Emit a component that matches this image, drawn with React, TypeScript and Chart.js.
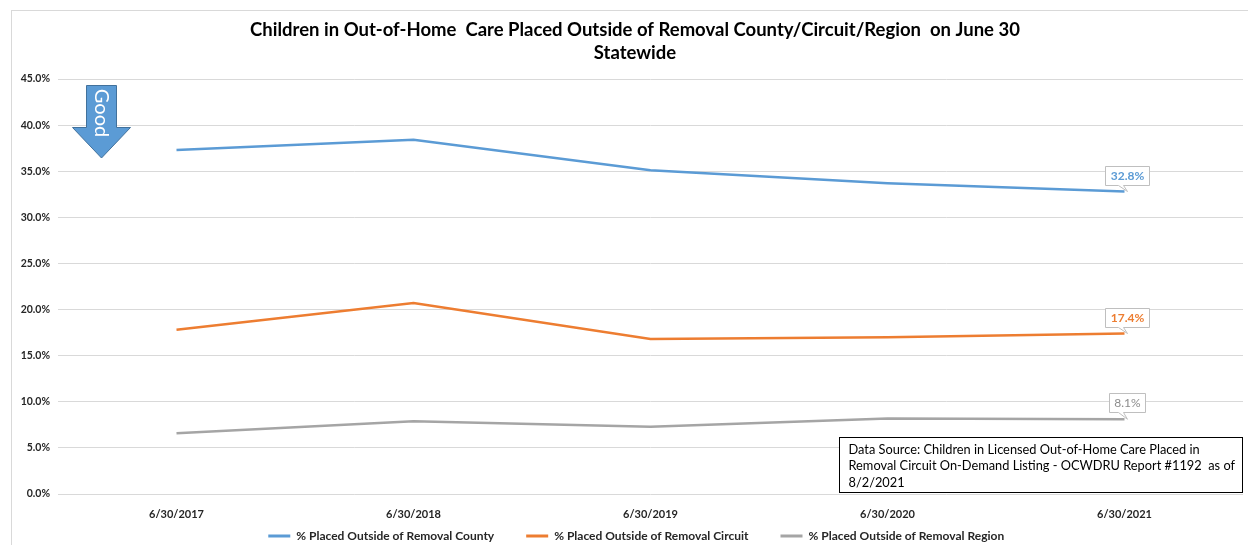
import React, { useEffect, useRef } from "react";
import { Chart, registerables } from "chart.js";

Chart.register(...registerables);

const categories = ["6/30/2017", "6/30/2018", "6/30/2019", "6/30/2020", "6/30/2021"];
const countyPct = [37.3, 38.4, 35.1, 33.7, 32.8];
const circuitPct = [17.8, 20.7, 16.8, 17.0, 17.4];
const regionPct = [6.6, 7.9, 7.3, 8.2, 8.1];
const seriesNames = [
  "% Placed Outside of Removal County",
  "% Placed Outside of Removal Circuit",
  "% Placed Outside of Removal Region",
];
const titleLines = [
  "Children in Out-of-Home  Care Placed Outside of Removal County/Circuit/Region  on June 30",
  "Statewide",
];
const sourceLines = [
  "Data Source: Children in Licensed Out-of-Home Care Placed in",
  "Removal Circuit On-Demand Listing - OCWDRU Report #1192  as of",
  "8/2/2021",
];
const FONT = "Lato, 'Liberation Sans', sans-serif";
const colors = ["#5B9BD5", "#ED7D31", "#A5A5A5"];
const labelColors = ["#5B9BD5", "#ED7D31", "#8c8c8c"];
const labelWeights = ["bold", "bold", "normal"];
const legendTrail = ["\u2003\u2003\u2002", "\u2003\u2003\u2002", "\u2003\u2003\u2003\u2009"];

const decorPlugin = {
  id: "decor",
  beforeDraw(chart: any) {
    const ctx = chart.ctx;
    ctx.save();
    ctx.strokeStyle = "#d9d9d9";
    ctx.lineWidth = 1;
    ctx.strokeRect(11.5, 10.5, 1300, 600);
    // title
    ctx.fillStyle = "#000000";
    ctx.font = `bold 18.5px ${FONT}`;
    ctx.textAlign = "center";
    ctx.textBaseline = "middle";
    titleLines.forEach((ln, k) => ctx.fillText(ln, 635, 30 + k * 23));
    ctx.restore();
  },
  afterDatasetsDraw(chart: any) {
    const ctx = chart.ctx;
    const area = chart.chartArea;
    // last-point callout labels
    chart.data.datasets.forEach((ds: any, i: number) => {
      const meta = chart.getDatasetMeta(i);
      const last = meta.data.length - 1;
      const pt = meta.data[last];
      const text = Number(ds.data[last]).toFixed(1) + "%";
      ctx.save();
      ctx.font = `${labelWeights[i]} 12px ${FONT}`;
      const tw = ctx.measureText(text).width;
      const w = Math.round(tw + 10);
      const h = 19;
      const cx = Math.round(pt.x + 2) + 0.5;
      const bottom = Math.round(pt.y - 7) + 0.5;
      const top = bottom - h;
      const left = cx - Math.round(w / 2);
      ctx.beginPath();
      ctx.moveTo(left, top);
      ctx.lineTo(left + w, top);
      ctx.lineTo(left + w, bottom);
      ctx.lineTo(cx - 4, bottom);
      ctx.lineTo(pt.x + 3, pt.y);
      ctx.lineTo(cx - 9, bottom);
      ctx.lineTo(left, bottom);
      ctx.closePath();
      ctx.fillStyle = "#ffffff";
      ctx.fill();
      ctx.strokeStyle = "#bfbfbf";
      ctx.lineWidth = 1;
      ctx.stroke();
      ctx.fillStyle = labelColors[i];
      ctx.textAlign = "center";
      ctx.textBaseline = "middle";
      ctx.fillText(text, left + w / 2, top + h / 2 + 0.5);
      ctx.restore();
    });

    // data source box
    ctx.save();
    const bx = Math.round(area.right - 404) + 0.5;
    const by = Math.round(area.bottom - 57) + 0.5;
    ctx.fillStyle = "#ffffff";
    ctx.fillRect(bx, by, 403, 55);
    ctx.strokeStyle = "#000000";
    ctx.lineWidth = 1;
    ctx.strokeRect(bx, by, 403, 55);
    ctx.fillStyle = "#000000";
    ctx.font = `12.8px ${FONT}`;
    ctx.textAlign = "left";
    ctx.textBaseline = "middle";
    sourceLines.forEach((ln, k) => ctx.fillText(ln, bx + 9, by + 12 + k * 16.5));
    ctx.restore();

    // "Good" arrow
    ctx.save();
    const L = area.left;
    const T = area.top;
    ctx.beginPath();
    ctx.moveTo(L + 28.5, T + 6.5);
    ctx.lineTo(L + 58.5, T + 6.5);
    ctx.lineTo(L + 58.5, T + 48.5);
    ctx.lineTo(L + 72.5, T + 48.5);
    ctx.lineTo(L + 43.5, T + 79);
    ctx.lineTo(L + 14.5, T + 48.5);
    ctx.lineTo(L + 28.5, T + 48.5);
    ctx.closePath();
    ctx.fillStyle = "#5B9BD5";
    ctx.fill();
    ctx.strokeStyle = "#41719C";
    ctx.lineWidth = 1;
    ctx.stroke();
    ctx.translate(L + 43.5, T + 34);
    ctx.rotate(Math.PI / 2);
    ctx.fillStyle = "#ffffff";
    ctx.font = `20px ${FONT}`;
    ctx.textAlign = "center";
    ctx.textBaseline = "middle";
    ctx.fillText("Good", 0, 0);
    ctx.restore();
  },
};

export default function App() {
  const ref = useRef<HTMLCanvasElement | null>(null);
  useEffect(() => {
    if (!ref.current) return;
    const seriesData = [countyPct, circuitPct, regionPct];
    const chart = new Chart(ref.current, {
      type: "line",
      data: {
        labels: categories,
        datasets: seriesData.map((d, i) => ({
          label: seriesNames[i],
          data: d,
          borderColor: colors[i],
          backgroundColor: colors[i],
          borderWidth: 2.5,
          pointRadius: 0,
          tension: 0,
          fill: false,
        })),
      },
      options: {
        animation: false,
        responsive: true,
        maintainAspectRatio: false,
        layout: { padding: { left: 11, right: 5, top: 79, bottom: -7 } },
        plugins: {
          title: { display: false },
          legend: {
            position: "bottom",
            fullSize: false,
            labels: {
              boxWidth: 22,
              boxHeight: 3,
              padding: 8,
              color: "#262626",
              font: { family: FONT, size: 12, weight: "bold" },
              generateLabels: (ch: any) =>
                ch.data.datasets.map((ds: any, i: number) => ({
                  text: ds.label + legendTrail[i],
                  fillStyle: colors[i],
                  strokeStyle: colors[i],
                  lineWidth: 0,
                  hidden: false,
                  datasetIndex: i,
                  fontColor: "#262626",
                })),
            },
          },
          tooltip: { enabled: false },
        },
        scales: {
          x: {
            offset: true,
            afterFit: (s: any) => {
              s.height = 28;
            },
            grid: { display: false, drawTicks: false },
            border: { display: false },
            ticks: {
              padding: 13.4,
              color: "#262626",
              font: { family: FONT, size: 11, weight: "bold" },
            },
          },
          y: {
            min: 0,
            max: 45,
            afterFit: (s: any) => {
              s.width = 47;
            },
            grid: { color: "#d9d9d9", lineWidth: 1, drawTicks: false },
            border: { display: false },
            ticks: {
              stepSize: 5,
              padding: 8,
              color: "#262626",
              font: { family: FONT, size: 10.5, weight: "bold" },
              callback: (v: any) => Number(v).toFixed(1) + "%",
            },
          },
        },
      },
      plugins: [decorPlugin],
    });
    return () => chart.destroy();
  }, []);
  return (
    <div style={{ position: "fixed", left: 0, top: 0, width: 1248, height: 545, background: "#fff" }}>
      <canvas ref={ref} />
    </div>
  );
}
